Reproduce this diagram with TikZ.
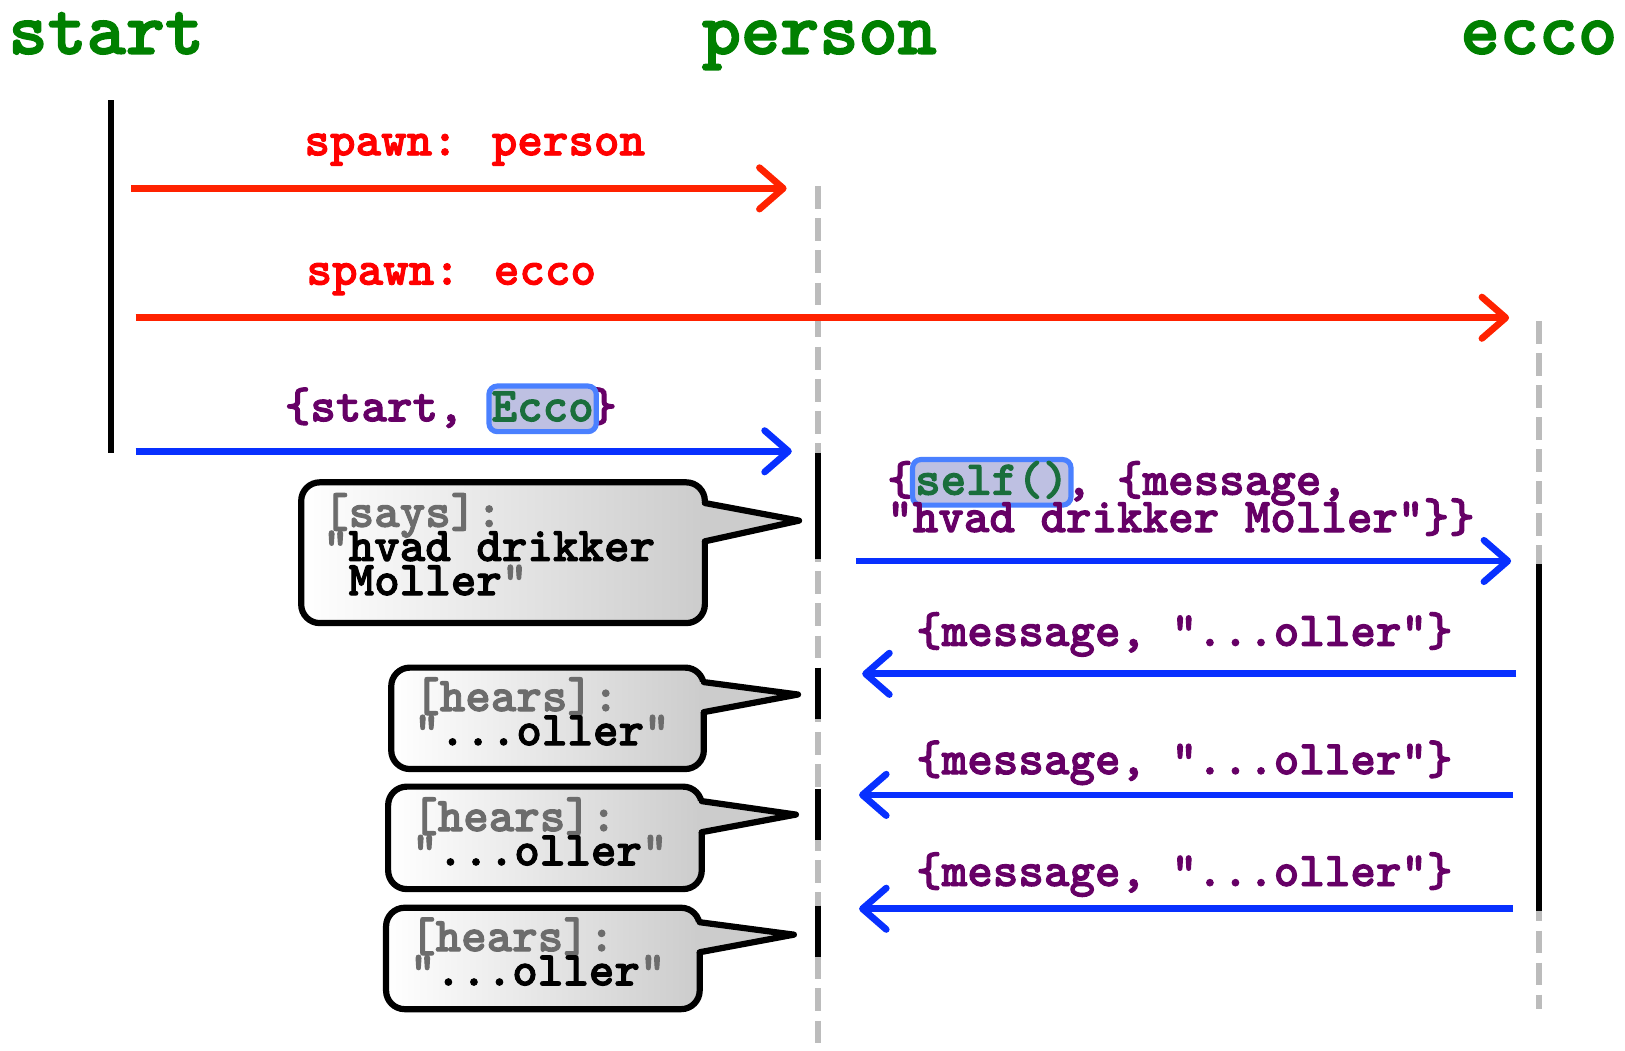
\documentclass[tikz,border=0pt]{standalone}
\usepackage{fontspec}
\usetikzlibrary{arrows.meta}
\newfontfamily\cour{lmmonolt10-bold.otf}[FakeBold=2]
\definecolor{ttlgreen}{RGB}{0,128,0}
\definecolor{arrred}{RGB}{255,34,0}
\definecolor{txtred}{RGB}{255,0,0}
\definecolor{arrblue}{RGB}{8,48,255}
\definecolor{msgpurple}{RGB}{102,0,102}
\definecolor{hlgreen}{RGB}{26,110,60}
\definecolor{hlfill}{RGB}{190,192,226}
\definecolor{hlborder}{RGB}{74,128,255}
\definecolor{lifegray}{RGB}{188,188,188}
\definecolor{saygray}{RGB}{108,108,108}
\begin{document}
\begin{tikzpicture}[x=1pt,y=-1pt,
  ttl/.style={font=\cour\fontsize{72}{72}\selectfont, text=ttlgreen, inner sep=0pt, anchor=base west},
  lbl/.style={font=\cour\fontsize{47}{47}\selectfont, inner sep=0pt, anchor=base west},
  redlbl/.style={lbl, text=txtred},
  msglbl/.style={lbl, text=msgpurple},
  hlbox/.style={lbl, text=hlgreen, fill=hlfill, draw=hlborder, line width=5pt, rounded corners=8pt, inner xsep=2.5pt, inner ysep=8pt, text height=26pt, text depth=2pt},
  saylbl/.style={lbl, text=black},
  graylbl/.style={lbl, text=saygray},
  bubblebody/.style={draw=black, line width=6pt, rounded corners=18pt, left color=white, right color=black!20, inner sep=0pt},
  pointerfill/.style={fill=black!20},
  pointeredge/.style={draw=black, line width=6pt, line join=round, line cap=round},
  redarrow/.style={draw=arrred, line width=6.5pt, -{Straight Barb[length=23pt,width=40pt,round]}},
  bluearrow/.style={draw=arrblue, line width=6.5pt, -{Straight Barb[length=23pt,width=40pt,round]}},
  lifeact/.style={draw=black, line width=6pt},
  lifeidle/.style={draw=lifegray, line width=6pt, dash pattern=on 22pt off 9pt},
]
\useasboundingbox (0,0) rectangle (1570,1014.5);

% titles
\node[ttl] (tstart) at (8,52) {start};
\node[ttl] (tperson) at (678,52) {person};
\node[ttl] (tecco) at (1411,52) {ecco};

% lifeline coordinates
\coordinate (s1) at (107,97);  \coordinate (s2) at (107,438);
\coordinate (p0) at (790,180); \coordinate (pE) at (790,1014.5);
\coordinate (p1) at (790,438); \coordinate (p2) at (790,540);
\coordinate (p3) at (790,645); \coordinate (p4) at (790,695);
\coordinate (p5) at (790,762); \coordinate (p6) at (790,812);
\coordinate (p7) at (790,875); \coordinate (p8) at (790,925);
\coordinate (e0) at (1487,310); \coordinate (eE) at (1487,975);
\coordinate (e1) at (1487,545); \coordinate (e2) at (1487,880);

\draw[lifeidle] (p0) -- (pE);
\draw[lifeidle] (e0) -- (eE);
\draw[lifeact] (s1) -- (s2);
\draw[lifeact] (p1) -- (p2);
\draw[lifeact] (p3) -- (p4);
\draw[lifeact] (p5) -- (p6);
\draw[lifeact] (p7) -- (p8);
\draw[lifeact] (e1) -- (e2);

% arrow end points
\coordinate (a1s) at (127,182);  \coordinate (a1e) at (760,182);
\coordinate (a2s) at (131,307);  \coordinate (a2e) at (1458,307);
\coordinate (a3s) at (131,436);  \coordinate (a3e) at (765,436);
\coordinate (a4s) at (827,542);  \coordinate (a4e) at (1460,542);
\coordinate (a5s) at (1465,651); \coordinate (a5e) at (833,651);
\coordinate (a6s) at (1462,768); \coordinate (a6e) at (830,768);
\coordinate (a7s) at (1462,878); \coordinate (a7e) at (830,878);

\draw[redarrow] (a1s) -- (a1e);
\draw[redarrow] (a2s) -- (a2e);
\draw[bluearrow] (a3s) -- (a3e);
\draw[bluearrow] (a4s) -- (a4e);
\draw[bluearrow] (a5s) -- (a5e);
\draw[bluearrow] (a6s) -- (a6e);
\draw[bluearrow] (a7s) -- (a7e);

% arrow labels
\node[redlbl] (l1) at (294,150) {spawn: person};
\node[redlbl] (l2) at (296,275) {spawn: ecco};
\node[msglbl] (l3) at (275,407) {\{start, \phantom{Ecco}\}};
\node[hlbox] (l3h) at (275+8*24.675-2.5,407) {Ecco};
\node[msglbl] (l4a) at (857,478) {\{\phantom{self()}, \{message,};
\node[hlbox] (l4h) at (857+24.675-2.5,478) {self()};
\node[msglbl] (l4b) at (857,514) {"hvad drikker Moller"\}\}};
\node[msglbl] (l5) at (885,624) {\{message, "...oller"\}};
\node[msglbl] (l6) at (885,748) {\{message, "...oller"\}};
\node[msglbl] (l7) at (885,856) {\{message, "...oller"\}};

% bubbles
\coordinate (t1) at (772,503);
\coordinate (t2) at (771,671);
\coordinate (t3) at (769,787);
\coordinate (t4) at (767,903);

\node[bubblebody, minimum width=390pt, minimum height=136pt] (b1) at (486,534) {};
\fill[pointerfill] (677,486) -- (t1) -- (677,523) -- cycle;
\draw[pointeredge] (681,486) -- (t1) -- (681,523);

\node[bubblebody, minimum width=302pt, minimum height=98pt] (b2) at (529,694) {};
\fill[pointerfill] (676,659) -- (t2) -- (676,688) -- cycle;
\draw[pointeredge] (680,659) -- (t2) -- (680,688);

\node[bubblebody, minimum width=303pt, minimum height=99pt] (b3) at (526.5,809.5) {};
\fill[pointerfill] (674,774) -- (t3) -- (674,804) -- cycle;
\draw[pointeredge] (678,774) -- (t3) -- (678,804);

\node[bubblebody, minimum width=303pt, minimum height=98pt] (b4) at (524.5,926) {};
\fill[pointerfill] (672,891) -- (t4) -- (672,920) -- cycle;
\draw[pointeredge] (676,891) -- (t4) -- (676,920);

% bubble texts
\node[graylbl] (c1a) at (312,509) {[says]:};
\node[saylbl] (c1b) at (312,542) {{\color{saygray}"}hvad drikker};
\node[saylbl] (c1c) at (312,575) {\phantom{"}Moller{\color{saygray}"}};

\node[graylbl] (c2a) at (400,687) {[hears]:};
\node[saylbl] (c2b) at (400,720) {{\color{saygray}"}...oller{\color{saygray}"}};

\node[graylbl] (c3a) at (398,803) {[hears]:};
\node[saylbl] (c3b) at (398,836) {{\color{saygray}"}...oller{\color{saygray}"}};

\node[graylbl] (c4a) at (396,919) {[hears]:};
\node[saylbl] (c4b) at (396,952) {{\color{saygray}"}...oller{\color{saygray}"}};
\end{tikzpicture}
\end{document}
